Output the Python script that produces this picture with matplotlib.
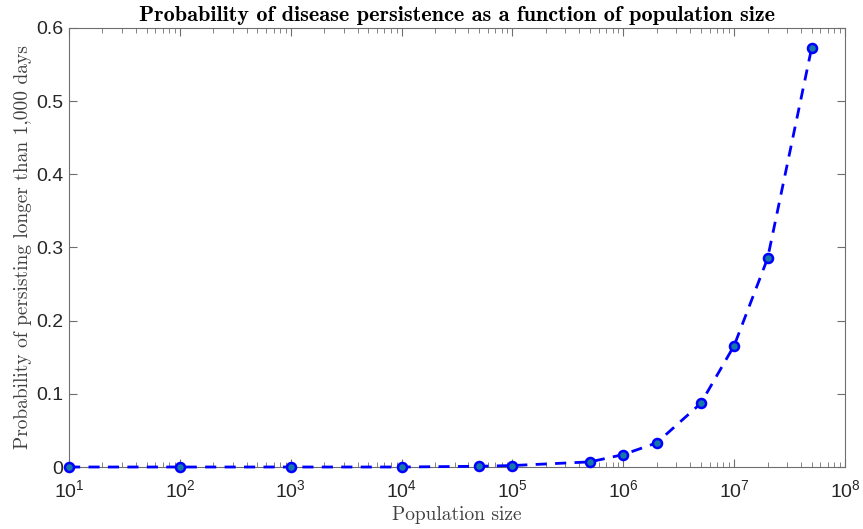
import matplotlib
matplotlib.use("Agg")
import matplotlib.pyplot as plt
from matplotlib.ticker import FormatStrFormatter, LogLocator, NullFormatter

pop_size = [1e1, 1e2, 1e3, 1e4, 5e4, 1e5, 5e5, 1e6, 2e6, 5e6, 1e7, 2e7, 5e7]
prob_persist = [0.0, 0.0, 0.0, 0.0, 0.001, 0.002, 0.007, 0.017, 0.033, 0.087, 0.166, 0.285, 0.573]
x_ticks = [1e1, 1e2, 1e3, 1e4, 1e5, 1e6, 1e7, 1e8]
y_ticks = [0, 0.1, 0.2, 0.3, 0.4, 0.5, 0.6]

plt.rcParams['font.family'] = ['Liberation Sans', 'DejaVu Sans']
plt.rcParams['mathtext.fontset'] = 'custom'
plt.rcParams['mathtext.rm'] = 'Liberation Sans'
plt.rcParams['mathtext.it'] = 'Liberation Sans:italic'

fig = plt.figure(figsize=(8.63, 5.29), dpi=100)
ax = fig.add_axes([0.080, 0.1172, 0.8992, 0.830])

ax.plot(pop_size, prob_persist, '--', color='blue', lw=2, clip_on=False, zorder=3,
        marker='o', ms=6.5, mfc='#1479a8', mec='blue', mew=1.8, dashes=(4, 3))

ax.set_xscale('log')
ax.set_xlim(1e1, 1e8)
ax.set_ylim(0, 0.6)
ax.set_xticks(x_ticks)
ax.set_yticks(y_ticks)
ax.yaxis.set_major_formatter(FormatStrFormatter('%g'))
ax.xaxis.set_minor_locator(LogLocator(base=10, subs=range(2, 10), numticks=20))
ax.xaxis.set_minor_formatter(NullFormatter())

edge = '#6e6e6e'
for s in ax.spines.values():
    s.set_color(edge)
    s.set_linewidth(0.8)
ax.tick_params(which='both', direction='in', top=True, right=True, color=edge)
ax.tick_params(which='major', length=6, labelsize=14, labelcolor='#262626')
ax.tick_params(which='minor', length=3.5)
ax.tick_params(axis='y', pad=4)
ax.tick_params(axis='x', pad=9)

ax.set_title('Probability of disease persistence as a function of population size',
             family='cmb10', fontsize=16, pad=5)
ax.set_xlabel('Population size', family='cmr10', fontsize=14, color='#404040', labelpad=3)
ax.set_ylabel('Probability of persisting longer than 1,000 days', family='cmr10',
              fontsize=14, color='#404040', labelpad=3)

fig.savefig('out.png', dpi=100)
